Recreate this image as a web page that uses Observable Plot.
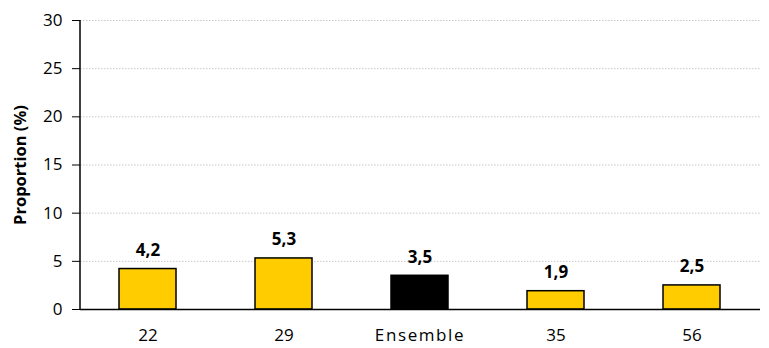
<!DOCTYPE html>
<html>
<head>
<meta charset="utf-8">
<script src="https://cdn.jsdelivr.net/npm/d3@7"></script>
<script src="https://cdn.jsdelivr.net/npm/@observablehq/plot@0.6"></script>
<style>
  body { margin: 0; background: #fff; }
  svg { font-family: "Open Sans", sans-serif; }
</style>
</head>
<body>
<div id="chart"></div>
<script>
const categories = ["22", "29", "Ensemble", "35", "56"];
const values = [4.2, 5.3, 3.5, 1.9, 2.5];
const yTicks = [0, 5, 10, 15, 20, 25, 30];

const data = categories.map((c, i) => ({cat: c, value: values[i], label: String(values[i]).replace(".", ",")}));

const chart = Plot.plot({
  width: 769,
  height: 348,
  marginLeft: 80,
  marginRight: 9,
  marginTop: 20,
  marginBottom: 39,
  style: {fontFamily: "Open Sans, sans-serif", fontSize: "17px", color: "#000"},
  x: {domain: categories, paddingInner: 0.58, paddingOuter: 0.29, label: null},
  y: {domain: [0, 30], label: null},
  marks: [
    Plot.gridY(yTicks.filter(t => t > 0), {stroke: "#c8c8c8", strokeOpacity: 1, strokeDasharray: "1.5,1.5", strokeWidth: 1}),
    Plot.barY(data, {x: "cat", y: "value", fill: d => d.cat === "Ensemble" ? "#000" : "#FFCC00", stroke: "#000", strokeWidth: 1.5}),
    Plot.text(data, {x: "cat", y: "value", text: "label", lineAnchor: "bottom", dy: -13, fontWeight: "bold", fontSize: 17, fill: "#000"}),
    Plot.axisY(yTicks, {tickSize: 8, tickPadding: 10, fontSize: 17, label: null, stroke: "#000"}),
    Plot.axisX({tickSize: 0, tickPadding: 19, fontSize: 17, label: null}),
    Plot.ruleY([0], {stroke: "#000", strokeWidth: 1.5}),
    Plot.text(["Proportion (%)"], {frameAnchor: "left", textAnchor: "middle", dx: -60, rotate: -90, fontWeight: "bold", fontSize: 16.5, fill: "#000"})
  ]
});

const svg = d3.select(chart);
svg.append("line")
  .attr("x1", 80).attr("x2", 80)
  .attr("y1", 20).attr("y2", 309)
  .attr("stroke", "#000").attr("stroke-width", 1.5);
svg.selectAll("text").filter(function() { return this.textContent === "Ensemble"; })
  .attr("letter-spacing", "1.6px");

document.getElementById("chart").appendChild(chart);
</script>
</body>
</html>
